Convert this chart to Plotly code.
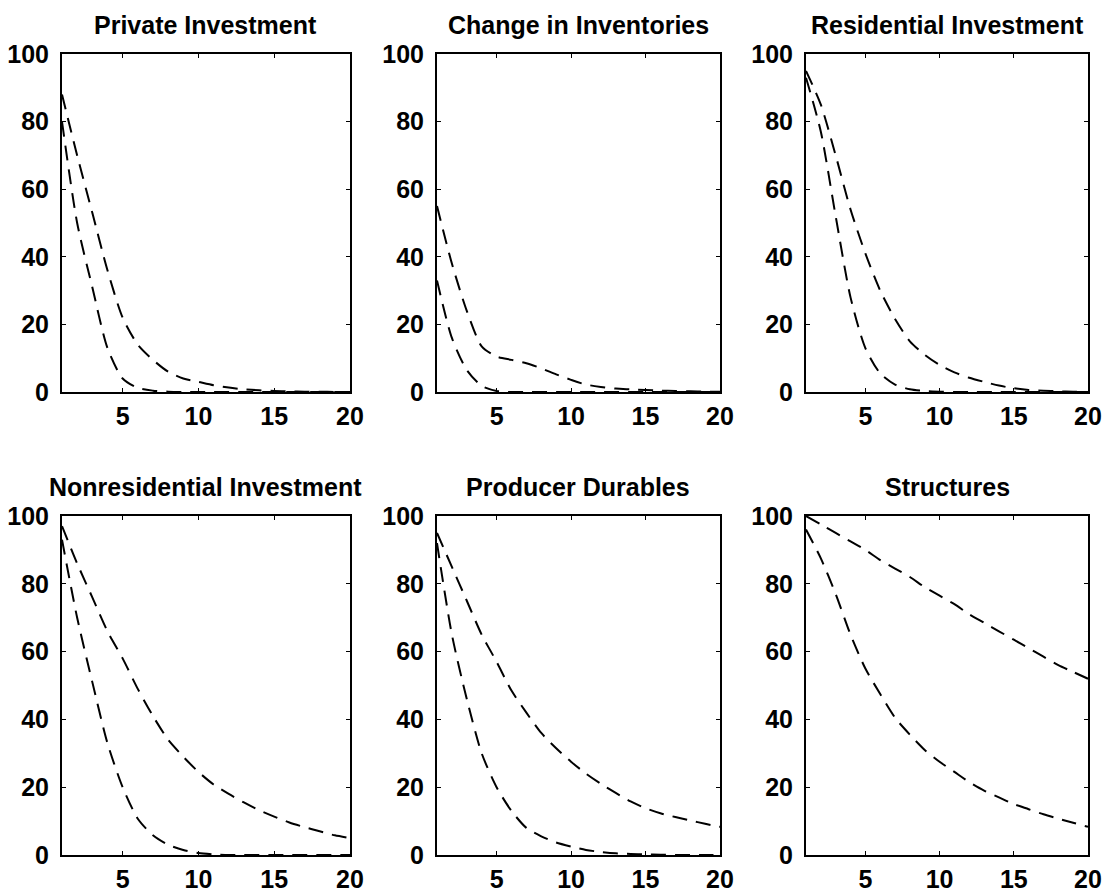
import plotly.graph_objects as go

horizon = list(range(1, 21))

titles = ["Private Investment", "Change in Inventories", "Residential Investment",
          "Nonresidential Investment", "Producer Durables", "Structures"]

private_upper = [88, 70, 53, 36, 22, 14, 9.5, 6, 4, 3, 2, 1.3, 0.8, 0.5, 0.3, 0.2, 0.1, 0.1, 0, 0]
private_lower = [80, 50, 31, 13, 4, 1.2, 0.4, 0.1, 0, 0, 0, 0, 0, 0, 0, 0, 0, 0, 0, 0]

invent_upper = [55, 38, 24, 13.5, 10.5, 9.5, 8.5, 7, 5.2, 3.6, 2.2, 1.5, 1.0, 0.8, 0.6, 0.4, 0.3, 0.2, 0.1, 0.1]
invent_lower = [33, 16, 6.5, 1.8, 0.3, 0, 0, 0, 0, 0, 0, 0, 0, 0, 0, 0, 0, 0, 0, 0]

resid_upper = [95, 85, 70, 54, 41, 30, 21.6, 15, 11, 8, 5.8, 4.2, 3, 1.9, 1.1, 0.6, 0.4, 0.2, 0.1, 0]
resid_lower = [93, 77, 52, 28, 13, 5.5, 2.2, 0.8, 0.3, 0.1, 0, 0, 0, 0, 0, 0, 0, 0, 0, 0]

nonres_upper = [97, 86, 76, 66, 58, 49, 41, 34, 29, 24.5, 20.8, 18, 15.5, 13.2, 11.3, 9.6, 8.2, 7, 5.8, 5]
nonres_lower = [93, 70, 51, 33, 20, 10.7, 5.8, 3, 1.5, 0.6, 0.2, 0, 0, 0, 0, 0, 0, 0, 0, 0]

prod_upper = [95, 85, 75, 65, 57, 48.5, 42, 36, 31.5, 27.5, 24, 21, 18.3, 15.8, 13.8, 12.3, 11.2, 10.2, 9.2, 8.3]
prod_lower = [92, 65, 46, 30, 20, 13, 8, 5.5, 3.7, 2.5, 1.5, 0.9, 0.5, 0.3, 0.2, 0.1, 0, 0, 0, 0]

struct_upper = [100, 97.5, 95, 92.5, 90, 87, 84.5, 82, 79, 76.5, 74, 71, 68.5, 66, 63.5, 61, 58.5, 56, 54, 52]
struct_lower = [96, 87.5, 77, 65, 55, 47.5, 40.5, 35.5, 31, 27.5, 24.5, 21.5, 19, 17, 15, 13.5, 12, 10.7, 9.5, 8.3]

series = [
    (private_upper, private_lower),
    (invent_upper, invent_lower),
    (resid_upper, resid_lower),
    (nonres_upper, nonres_lower),
    (prod_upper, prod_lower),
    (struct_upper, struct_lower),
]

x_ticks = [5, 10, 15, 20]
y_ticks = [0, 20, 40, 60, 80, 100]

W, H = 1112, 894
col_px = [(62, 350), (437, 720), (806, 1088)]
row_px = [(54, 392), (516, 855)]

FONT = "Liberation Sans, Arial, Helvetica, sans-serif"

fig = go.Figure()
annotations = []
for i in range(6):
    r, c = divmod(i, 3)
    xa = "x" if i == 0 else f"x{i+1}"
    ya = "y" if i == 0 else f"y{i+1}"
    xd = [col_px[c][0] / W, col_px[c][1] / W]
    yd = [1 - row_px[r][1] / H, 1 - row_px[r][0] / H]
    for s in series[i]:
        fig.add_trace(go.Scatter(x=horizon, y=s, mode="lines", xaxis=xa, yaxis=ya,
                                 line=dict(color="black", width=2, dash="15px,9px",
                                           shape="spline", smoothing=0.7),
                                 cliponaxis=True,
                                 showlegend=False, hoverinfo="skip"))
    axcommon = dict(showline=True, linecolor="black", linewidth=2, mirror="ticks",
                    ticks="inside", ticklen=4, tickcolor="black", showgrid=False,
                    zeroline=False, automargin=False,
                    tickfont=dict(family=FONT, size=25, color="black", weight="bold"))
    fig.layout[f"xaxis{'' if i == 0 else i+1}"] = dict(
        domain=xd, range=[1, 20], tickvals=x_ticks, anchor=ya,
        ticklabelstandoff=1, **axcommon)
    fig.layout[f"yaxis{'' if i == 0 else i+1}"] = dict(
        domain=yd, range=[0, 100], tickvals=y_ticks, anchor=xa,
        ticklabelstandoff=6, **axcommon)
    annotations.append(dict(text=f"<b>{titles[i]}</b>", xref="paper", yref="paper",
                            x=(xd[0] + xd[1]) / 2, y=yd[1], xanchor="center",
                            yanchor="bottom", yshift=13, showarrow=False,
                            font=dict(family=FONT, size=25, color="black")))

fig.update_layout(width=W, height=H, margin=dict(l=0, r=0, t=0, b=0, autoexpand=False),
                  paper_bgcolor="white", plot_bgcolor="white",
                  annotations=annotations)

fig.write_html("out.html")
